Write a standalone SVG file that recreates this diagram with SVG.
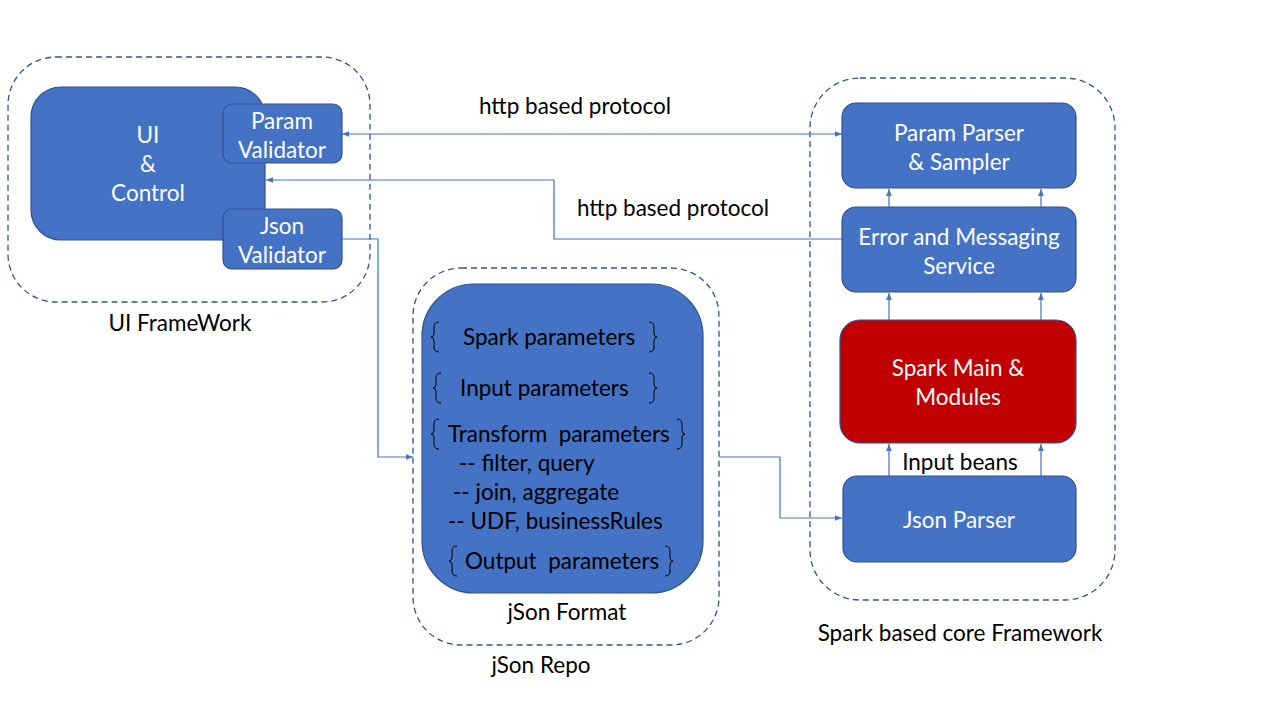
<svg xmlns="http://www.w3.org/2000/svg" width="1280" height="720" viewBox="0 0 1280 720">
<style>
.bg{fill:#ffffff}
.cont{fill:none;stroke:#2F5597;stroke-width:1.3;stroke-dasharray:6 4}
.box{fill:#4472C4;stroke:#2F528F;stroke-width:1.2}
.red{fill:#C00000;stroke:#2F528F;stroke-width:1.2}
.wt{font-family:Lato,"Open Sans",sans-serif;font-size:22.5px;fill:#ffffff;text-anchor:middle}
.bt{font-family:Lato,"Open Sans",sans-serif;font-size:22.5px;fill:#000000}
.btc{font-family:Lato,"Open Sans",sans-serif;font-size:22.5px;fill:#000000;text-anchor:middle}
.con{fill:none;stroke:#4472C4;stroke-width:1.2}
.brace{fill:none;stroke:#000000;stroke-width:1}
</style>
<defs>
<marker id="ah" viewBox="0 0 10 10" refX="10" refY="5" markerWidth="7" markerHeight="7" markerUnits="userSpaceOnUse" orient="auto-start-reverse">
<path d="M0,1 L10,5 L0,9 Z" fill="#4472C4"/>
</marker>
</defs>
<rect class="bg" x="0" y="0" width="1280" height="720"/>

<g id="ui-framework">
<rect class="cont" x="8" y="57" width="362" height="245" rx="48"/>
<text class="btc" x="180" y="331">UI FrameWork</text>
</g>
<g id="ui-control">
<rect class="box" x="31" y="87" width="234" height="153" rx="30"/>
<text class="wt" x="148" y="143">UI</text>
<text class="wt" x="148" y="172">&amp;</text>
<text class="wt" x="148" y="201">Control</text>
</g>
<g id="param-validator">
<rect class="box" x="223" y="104" width="119" height="59" rx="9"/>
<text class="wt" x="282" y="129">Param</text>
<text class="wt" x="282" y="158">Validator</text>
</g>
<g id="json-validator">
<rect class="box" x="223" y="209" width="119" height="60" rx="9"/>
<text class="wt" x="282" y="234">Json</text>
<text class="wt" x="282" y="263">Validator</text>
</g>

<g id="json-repo">
<rect class="cont" x="413" y="268" width="306" height="377" rx="48"/>
<text class="btc" x="541" y="673">jSon Repo</text>
</g>
<g id="json-format">
<rect class="box" x="422" y="284" width="281" height="309" rx="52"/>
<path class="brace" d="M439,322 Q434,322 434,327 L434,333 Q434,337 431,337 Q434,337 434,341 L434,347 Q434,352 439,352"/>
<path class="brace" d="M649,322 Q654,322 654,327 L654,333 Q654,337 657,337 Q654,337 654,341 L654,347 Q654,352 649,352"/>
<text class="bt" x="463" y="345">Spark parameters</text>
<path class="brace" d="M441,373 Q436,373 436,378 L436,384 Q436,388 433,388 Q436,388 436,392 L436,398 Q436,403 441,403"/>
<path class="brace" d="M649,373 Q654,373 654,378 L654,384 Q654,388 657,388 Q654,388 654,392 L654,398 Q654,403 649,403"/>
<text class="bt" x="460" y="396">Input parameters</text>
<path class="brace" d="M439,419 Q434,419 434,424 L434,430 Q434,434 431,434 Q434,434 434,438 L434,444 Q434,449 439,449"/>
<path class="brace" d="M677,419 Q682,419 682,424 L682,430 Q682,434 685,434 Q682,434 682,438 L682,444 Q682,449 677,449"/>
<text class="bt" x="448" y="442" xml:space="preserve">Transform  parameters</text>
<text class="bt" x="459" y="471">-- filter, query</text>
<text class="bt" x="453" y="500">-- join, aggregate</text>
<text class="bt" x="448" y="529">-- UDF, businessRules</text>
<path class="brace" d="M457,546 Q452,546 452,551 L452,557 Q452,561 449,561 Q452,561 452,565 L452,571 Q452,576 457,576"/>
<path class="brace" d="M665,546 Q670,546 670,551 L670,557 Q670,561 673,561 Q670,561 670,565 L670,571 Q670,576 665,576"/>
<text class="bt" x="465" y="569" xml:space="preserve">Output  parameters</text>
<text class="btc" x="567" y="620">jSon Format</text>
</g>

<g id="spark-core">
<rect class="cont" x="810" y="78" width="305" height="522" rx="50"/>
<text class="btc" x="960" y="641">Spark based core Framework</text>
</g>
<g id="param-parser">
<rect class="box" x="842" y="103" width="234" height="85" rx="14"/>
<text class="wt" x="959" y="141">Param Parser</text>
<text class="wt" x="959" y="170">&amp; Sampler</text>
</g>
<g id="error-messaging">
<rect class="box" x="842" y="207" width="234" height="85" rx="14"/>
<text class="wt" x="959" y="245">Error and Messaging</text>
<text class="wt" x="959" y="274">Service</text>
</g>
<g id="spark-main">
<rect class="red" x="840" y="320" width="236" height="123" rx="20"/>
<text class="wt" x="958" y="376">Spark Main &amp;</text>
<text class="wt" x="958" y="405">Modules</text>
</g>
<g id="json-parser">
<rect class="box" x="843" y="476" width="233" height="86" rx="14"/>
<text class="wt" x="959" y="528">Json Parser</text>
</g>

<g id="connectors">
<path class="con" d="M342,134 L842,134" marker-start="url(#ah)" marker-end="url(#ah)"/>
<text class="btc" x="575" y="114">http based protocol</text>
<path class="con" d="M842,239 L554,239 L554,180 L266,180" marker-end="url(#ah)"/>
<text class="btc" x="673" y="216">http based protocol</text>
<path class="con" d="M342,239 L378,239 L378,457 L413,457" marker-end="url(#ah)"/>
<path class="con" d="M719,457 L780,457 L780,518 L842,518" marker-end="url(#ah)"/>
<path class="con" d="M889,207 L889,189" marker-end="url(#ah)"/>
<path class="con" d="M1041,207 L1041,189" marker-end="url(#ah)"/>
<path class="con" d="M889,320 L889,293" marker-end="url(#ah)"/>
<path class="con" d="M1041,320 L1041,293" marker-end="url(#ah)"/>
<path class="con" d="M889,476 L889,444" marker-end="url(#ah)"/>
<path class="con" d="M1041,476 L1041,444" marker-end="url(#ah)"/>
<text class="btc" x="960" y="470">Input beans</text>
</g>
</svg>
